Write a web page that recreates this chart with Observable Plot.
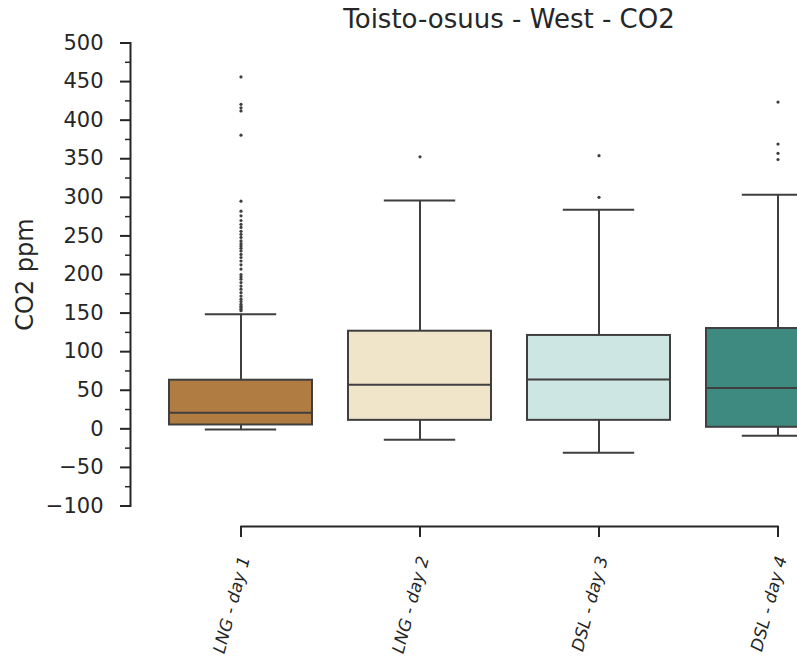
<!DOCTYPE html>
<html><head><meta charset="utf-8">
<script src="https://cdn.jsdelivr.net/npm/d3@7"></script>
<script src="https://cdn.jsdelivr.net/npm/@observablehq/plot@0.6"></script>
<style>
body{margin:0;background:#fff;}
#wrap{position:relative;width:797px;height:657px;overflow:hidden;font-family:"DejaVu Sans";color:#262626;background:#fff;}
#title{position:absolute;left:509px;top:4px;transform:translateX(-50%);font-size:26px;line-height:30px;white-space:nowrap;}
#chart{position:absolute;left:0;top:30px;}
</style></head><body>
<div id="wrap"><div id="title">Toisto-osuus - West - CO2</div><div id="chart"></div></div>
<script>
const categories = ["LNG - day 1", "LNG - day 2", "DSL - day 3", "DSL - day 4"];
const q1 = [5, 11, 11, 2];
const medians = [21, 57, 64, 53];
const q3 = [63, 126.5, 121, 130];
const whiskerLow = [-1, -14, -31, -9];
const whiskerHigh = [148.5, 296, 284, 303.5];
const boxColors = ["#b07c41", "#f0e4c9", "#cde5e3", "#3e8a80"];
const outliersDay1 = [456, 420.5, 416, 412, 380.5, 295, 282, 276, 270, 265, 261, 256, 252, 248, 243.5, 240, 237, 234, 230.5, 226, 222, 217.5, 212.5, 207, 200, 197, 194, 189.5, 185, 181, 176.5, 172, 168, 165, 161.5, 159, 157, 155, 153];
const outliersDay2 = [352.5];
const outliersDay3 = [300, 354];
const outliersDay4 = [349, 357, 369, 423.5];
const yMajorTicks = [-100, -50, 0, 50, 100, 150, 200, 250, 300, 350, 400, 450, 500];
const yMinorTicks = [-75, -25, 25, 75, 125, 175, 225, 275, 325, 375, 425, 475];
const yLabel = "CO2 ppm";

const outliers = [outliersDay1, outliersDay2, outliersDay3, outliersDay4];
const boxes = categories.map((c, i) => ({category: c, q1: q1[i], median: medians[i], q3: q3[i], lo: whiskerLow[i], hi: whiskerHigh[i]}));
const fliers = outliers.flatMap((arr, i) => arr.map(v => ({category: categories[i], value: v})));

const lineColor = "#3f3f3f";
const textColor = "#262626";
const W = 900, H = 627;
const step = 179;
const capInset = step * 0.8 / 4;

const plot = Plot.plot({
  width: W, height: H,
  marginTop: 12.5, marginBottom: 151.5, marginLeft: 130, marginRight: W - 867.5,
  style: {fontFamily: "DejaVu Sans", color: textColor, background: "white", maxWidth: "none", overflow: "visible"},
  x: {type: "band", domain: categories, range: [151.5, 867.5], paddingInner: 0.2, paddingOuter: 0.1, axis: null},
  y: {domain: [-100, 500], axis: null},
  color: {type: "ordinal", domain: categories, range: boxColors},
  marks: [
    Plot.frame({anchor: "left", stroke: textColor, strokeWidth: 2}),
    Plot.axisY({ticks: yMajorTicks, tickSize: 10, tickPadding: 17, fontSize: 21, strokeWidth: 2, label: null, tickFormat: d3.format("d"), color: textColor}),
    Plot.axisY({ticks: yMinorTicks, tickSize: 5, strokeWidth: 1.5, label: null, tickFormat: () => "", color: textColor}),
    Plot.text([yLabel], {frameAnchor: "left", text: d => d, rotate: -90, textAnchor: "middle", lineAnchor: "bottom", dx: -98, fontSize: 24, fill: textColor}),
    Plot.line([categories[0], categories[categories.length - 1]], {x: d => d, y: () => -100, dy: 20.5, stroke: textColor, strokeWidth: 2}),
    Plot.axisX({tickSize: 11, dy: 20.5, strokeWidth: 2, label: null, tickFormat: () => "", color: textColor}),
    Plot.text(categories, {x: d => d, text: d => d, frameAnchor: "bottom", rotate: -75, textAnchor: "end", lineAnchor: "bottom", dx: 9, dy: 52, fontSize: 17, fontStyle: "italic", fill: textColor}),
    Plot.ruleX(boxes, {x: "category", y1: "lo", y2: "q1", stroke: lineColor, strokeWidth: 2}),
    Plot.ruleX(boxes, {x: "category", y1: "q3", y2: "hi", stroke: lineColor, strokeWidth: 2}),
    Plot.barY(boxes, {x: "category", y1: "q1", y2: "q3", fill: "category", stroke: lineColor, strokeWidth: 2}),
    Plot.tickY(boxes, {x: "category", y: "median", stroke: lineColor, strokeWidth: 2}),
    Plot.tickY(boxes, {x: "category", y: "lo", stroke: lineColor, strokeWidth: 2, insetLeft: capInset, insetRight: capInset}),
    Plot.tickY(boxes, {x: "category", y: "hi", stroke: lineColor, strokeWidth: 2, insetLeft: capInset, insetRight: capInset}),
    Plot.dot(fliers, {x: "category", y: "value", r: 1.6, fill: lineColor, stroke: null})
  ]
});
plot.style.maxWidth = "none";
plot.style.overflow = "visible";
document.getElementById("chart").appendChild(plot);
</script>
</body></html>
